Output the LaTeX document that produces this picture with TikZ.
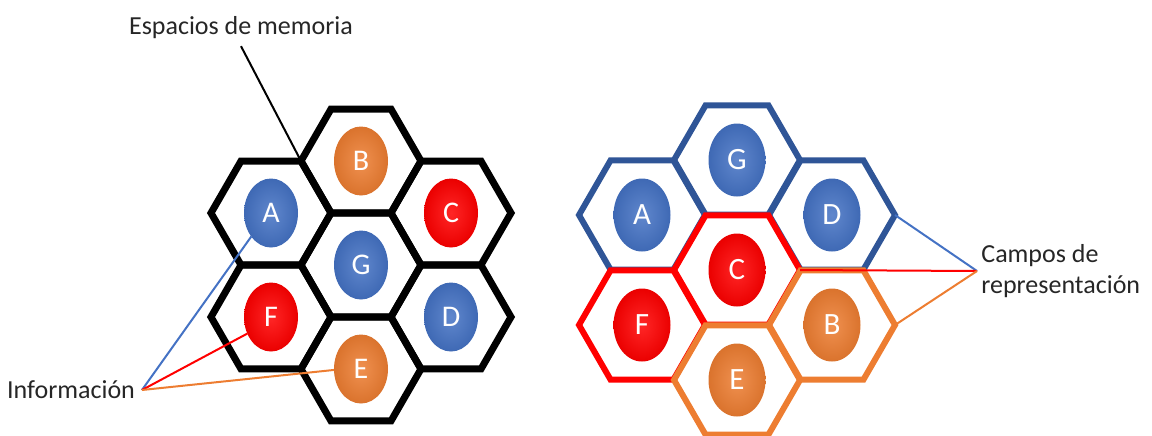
\documentclass[tikz,border=0pt]{standalone}
\usepackage{fontspec}
\setmainfont{Carlito}
\usepackage{xcolor}
\usepackage{tikz}
\usetikzlibrary{shapes.geometric, positioning}

\definecolor{azul}{HTML}{4472C4}
\definecolor{azuloscuro}{HTML}{2F5597}
\definecolor{rojo}{HTML}{FF0000}
\definecolor{naranja}{HTML}{ED7D31}

\begin{document}
\begin{tikzpicture}[x=0.5pt, y=-0.5pt,
    celda/.style={regular polygon, regular polygon sides=6, inner sep=0pt,
        outer sep=0pt, draw=#1, line join=miter},
    bola/.style={ellipse, inner sep=0pt, outer sep=0pt,
        inner color=#1!85!white, outer color=#1!92!black,
        text=white, font=\fontsize{15}{17}\selectfont},
    etiqueta/.style={font=\fontsize{13}{15.6}\selectfont, text=black!85}]
                \useasboundingbox (0,0) rectangle (1152,435);

                % 1. Espacios de memoria (izquierda)
                \foreach \n/\px/\py/\col in {A/271/213/azul, B/361/161/naranja,
                    C/451/213/rojo, G/361/265/azul, F/271/317/rojo,
                    D/451/317/azul, E/361/369/naranja} {
                    \node[celda=black, minimum size=60pt, line width=3.5pt]
                        (hexI\n) at (\px,\py) {};
                    \node[bola=\col, minimum width=27pt, minimum height=34.5pt]
                        (bolaI\n) at (\px,\py) {\n};
                }

                % 2. Campos de representacion (derecha)
                \foreach \n/\px/\py/\col/\borde in {A/642/215/azul/azuloscuro,
                    G/737/160/azul/azuloscuro, D/832/215/azul/azuloscuro,
                    C/737/270/rojo/rojo, F/642/325/rojo/rojo,
                    E/737/380/naranja/naranja, B/832/325/naranja/naranja} {
                    \node[celda=\borde, minimum size=63pt, line width=3pt]
                        (hexD\n) at (\px,\py) {};
                    \node[bola=\col, minimum width=28.5pt, minimum height=36.5pt,
                        font=\fontsize{15.5}{17}\selectfont]
                        (bolaD\n) at (\px,\py) {\n};
                }

                % 3. Etiquetas
                \node[etiqueta] (memoria) at (241,28) {Espacios de memoria};
                \node[etiqueta] (info) at (71,390) {Información};
                \node[etiqueta, anchor=west, align=left, inner sep=2pt]
                    (campos) at (977,271) {Campos de\\representación};

                % 4. Lineas
                \draw[line width=1pt] (memoria.south) -- (hexIA.60);
                \draw[azul, line width=1pt] (info.east) -- (bolaIA.230);
                \draw[rojo, line width=1pt] (info.east) -- (bolaIF.215);
                \draw[naranja, line width=1pt] (info.east) -- (bolaIE.182);
                \draw[azul, line width=1pt] (campos.west) -- (hexDD.east);
                \draw[rojo, line width=1pt] (campos.west) -- (hexDC.east);
                \draw[naranja, line width=1pt] (campos.west) -- (hexDB.east);
            \end{tikzpicture}
\end{document}
